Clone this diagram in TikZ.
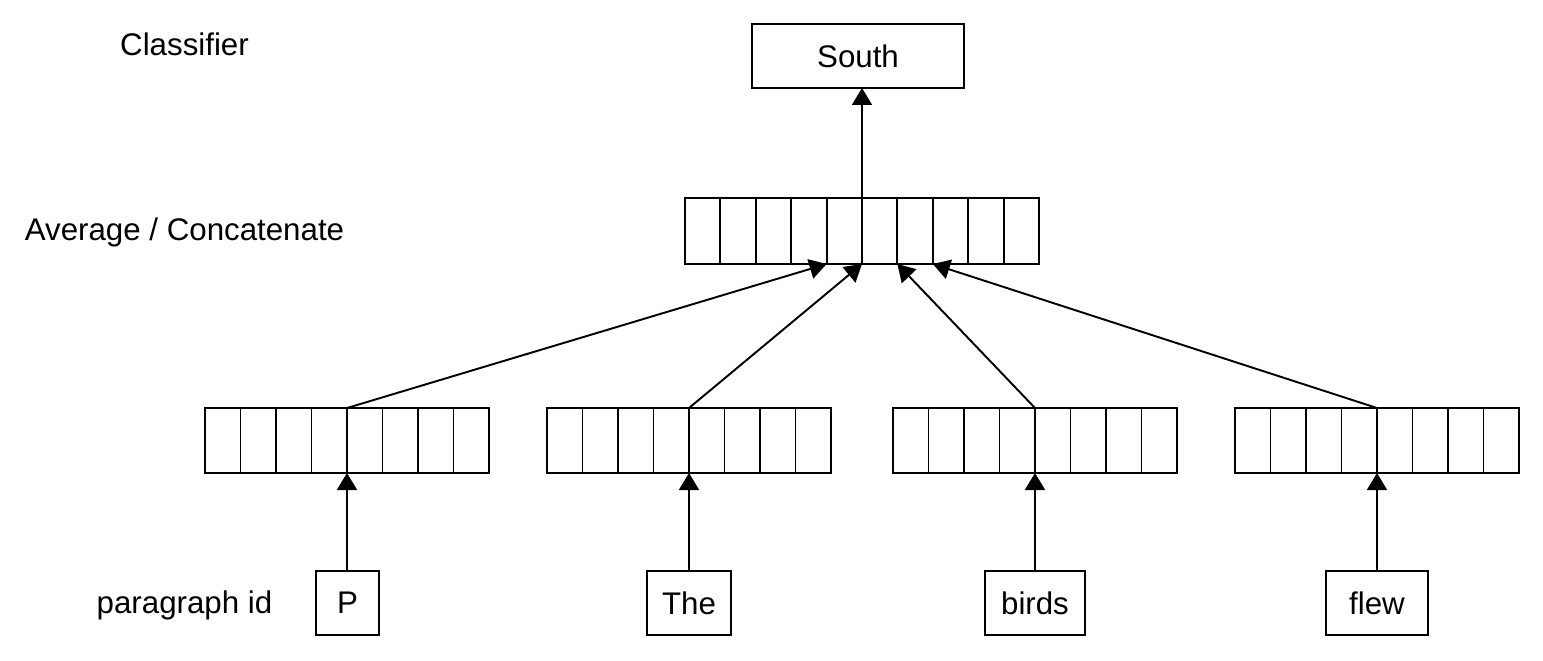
\documentclass[tikz,border=0pt]{standalone}
\usepackage{fontspec}
\setmainfont{Liberation Sans}
\usepackage{xcolor}
\usepackage{tikz}
\usetikzlibrary{arrows.meta,positioning}
\definecolor{dvedge}{RGB}{0,0,0}
\newcommand{\dvfont}{\fontsize{17.8}{21}\selectfont}
\tikzset{
  dvbox/.style={
    draw=dvedge, line width=1.1pt, inner sep=0pt, outer sep=0pt,
    minimum height=1.28cm, font=\dvfont
  },
  word/.style={dvbox},
  cell/.style={
    draw=dvedge, line width=1.1pt, inner sep=0pt, outer sep=0pt,
    minimum width=0.71cm, minimum height=1.3cm, anchor=south west
  },
  lbl/.style={font=\dvfont, inner sep=0pt},
  arr/.style={-{Triangle[length=3.4mm,width=4mm]}, draw=dvedge, line width=1.1pt}
}

\begin{document}
\begin{tikzpicture}[x=0.02cm, y=-0.02cm]
  \useasboundingbox (0,0) rectangle (1543,660);
  % row labels
  \node[lbl] (lclass) at (184.5,44) {Classifier};
  \node[lbl] (lavg) at (184.5,232) {Average / Concatenate};
  \node[lbl] (lpar) at (184.5,605) {paragraph id};
  % classifier output
  \node[dvbox, minimum width=4.24cm] (south) at (858,56) {South};
  % combined vector
  \foreach \i in {1,...,10}
    \node[cell, minimum width=0.708cm, minimum height=1.32cm] (mid-\i) at ({685+(\i-1)*35.4},264) {};
  % paragraph and word vectors
  \foreach \v/\x in {a/205,b/547,c/893,d/1235}
    \foreach \i in {1,...,8}
      \node[cell] (\v-\i) at ({\x+(\i-1)*35.5},473) {};
  % inputs
  \node[word, minimum width=1.26cm] (wp) at (347.5,603) {P};
  \node[word, minimum width=1.68cm] (wthe) at (689,603) {The};
  \node[word, minimum width=2.0cm] (wbirds) at (1035,603) {birds};
  \node[word, minimum width=2.04cm] (wflew) at (1377,603) {flew};
  \draw[arr] (a-4.south east |- wp.north) -- (a-4.south east);
  \draw[arr] (b-4.south east |- wthe.north) -- (b-4.south east);
  \draw[arr] (c-4.south east |- wbirds.north) -- (c-4.south east);
  \draw[arr] (d-4.south east |- wflew.north) -- (d-4.south east);
  \draw[arr] (a-4.north east) -- (mid-4.south east);
  \draw[arr] (b-4.north east) -- (mid-5.south east);
  \draw[arr] (c-4.north east) -- (mid-6.south east);
  \draw[arr] (d-4.north east) -- (mid-7.south east);
  \draw[arr] (mid-5.north east) -- (mid-5.north east |- south.south);
\end{tikzpicture}
\end{document}
